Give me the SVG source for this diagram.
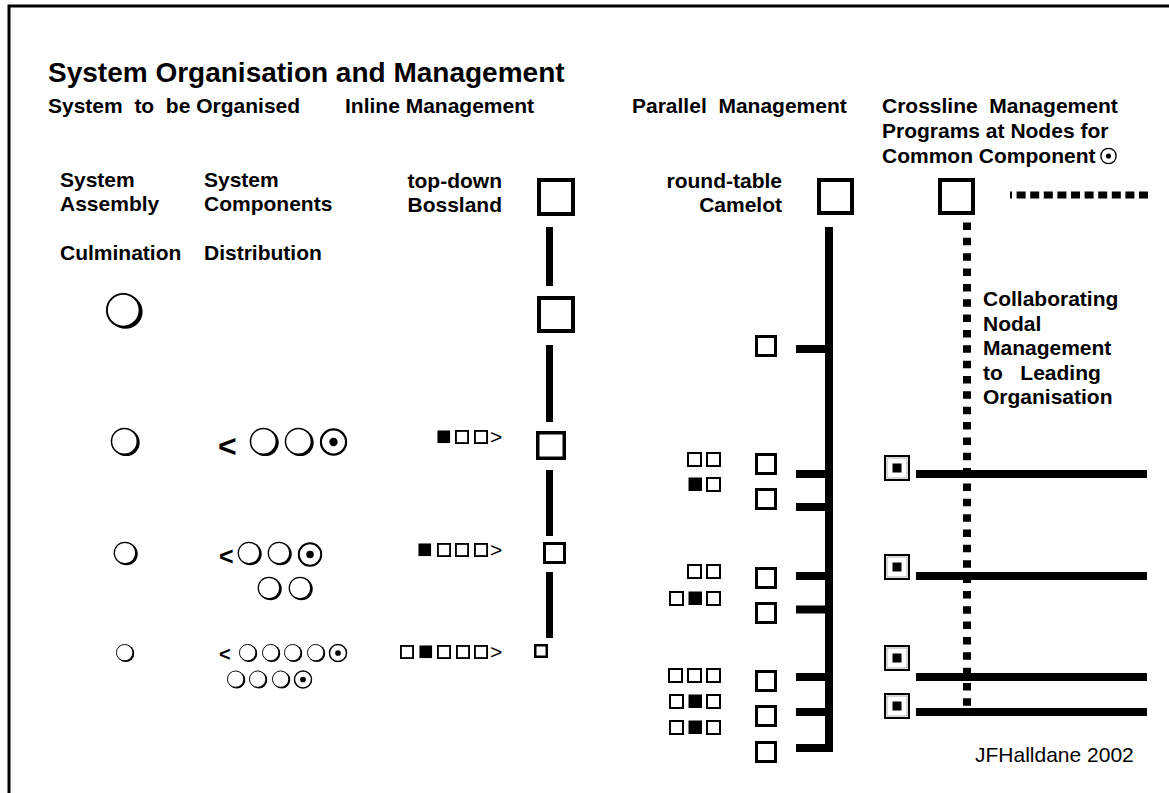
<svg xmlns="http://www.w3.org/2000/svg" xmlns:xlink="http://www.w3.org/1999/xlink" width="1169" height="793" viewBox="0 0 1169 793">
<style>
.tt{font-family:"Liberation Sans",Arial,sans-serif;font-weight:bold;font-size:28px;fill:#000}
.b{font-family:"Liberation Sans",Arial,sans-serif;font-weight:bold;font-size:21px;fill:#000;white-space:pre}
.r{font-family:"Liberation Sans",Arial,sans-serif;font-size:21px;fill:#000;white-space:pre}
.e{text-anchor:end}
.box{fill:#fff;stroke:#000}
.bar{stroke:#000;stroke-width:7;fill:none}
.br{stroke:#000;stroke-width:8;fill:none}
</style>
<defs>
<symbol id="q" viewBox="0 0 100 100"><circle cx="54" cy="52" r="45" fill="#000"/><circle cx="48" cy="48" r="43" fill="#fff" stroke="#000" stroke-width="5"/></symbol>
<symbol id="c" viewBox="0 0 100 100"><circle cx="50" cy="50" r="45" fill="#fff" stroke="#000" stroke-width="8"/><circle cx="50" cy="50" r="15" fill="#000"/></symbol>
<symbol id="o" viewBox="0 0 15 15"><rect x="1" y="1" width="13" height="13" fill="#fff" stroke="#000" stroke-width="2"/></symbol>
<symbol id="f" viewBox="0 0 15 15"><rect x="0.5" y="0.5" width="13.5" height="13.5" fill="#000"/></symbol>
<symbol id="n" viewBox="0 0 26 26"><rect x="1" y="1" width="24" height="24" fill="#fff" stroke="#000" stroke-width="2"/><rect x="3" y="3" width="20" height="20" fill="none" stroke="#999" stroke-width="0.8"/><rect x="8.5" y="8.5" width="9" height="9" fill="#000"/></symbol>
</defs>
<rect id="frame" x="9" y="6" width="1200" height="900" fill="none" stroke="#000" stroke-width="3"/>
<g id="title"><text class="tt" x="48" y="82">System Organisation and Management</text></g>
<g id="headers">
<text class="b" x="48" y="113">System  to  be Organised</text>
<text class="b" x="345" y="113">Inline Management</text>
<text class="b" x="632" y="113">Parallel  Management</text>
<text class="b" x="882" y="113">Crossline  Management</text>
<text class="b" x="882" y="138">Programs at Nodes for</text>
<text class="b" x="882" y="163">Common Component</text>
<use href="#c" x="1100" y="147.5" width="17" height="17"/>
</g>
<g id="labels">
<text class="b" x="60" y="187">System</text><text class="b" x="60" y="211">Assembly</text>
<text class="b" x="204" y="187">System</text><text class="b" x="204" y="211">Components</text>
<text class="b" x="60" y="260">Culmination</text><text class="b" x="204" y="260">Distribution</text>
<text class="b e" x="502" y="188">top-down</text><text class="b e" x="502" y="212">Bossland</text>
<text class="b e" x="782" y="188">round-table</text><text class="b e" x="782" y="212">Camelot</text>
<text class="b" x="983" y="306">Collaborating</text>
<text class="b" x="983" y="331">Nodal</text>
<text class="b" x="983" y="355">Management</text>
<text class="b" x="983" y="380">to   Leading</text>
<text class="b" x="983" y="404">Organisation</text>
<text class="r" x="975" y="762">JFHalldane 2002</text>
</g>
<g id="connectors">
<line class="bar" x1="549.5" y1="227" x2="549.5" y2="286"/>
<line class="bar" x1="549.5" y1="345" x2="549.5" y2="422"/>
<line class="bar" x1="549.5" y1="470" x2="549.5" y2="536"/>
<line class="bar" x1="549.5" y1="572" x2="549.5" y2="638"/>
<line class="br" x1="829" y1="227" x2="829" y2="752"/>
<line class="br" x1="796" y1="349" x2="829" y2="349"/>
<line class="br" x1="796" y1="474" x2="829" y2="474"/>
<line class="br" x1="796" y1="507" x2="829" y2="507"/>
<line class="br" x1="796" y1="576" x2="829" y2="576"/>
<line class="br" x1="796" y1="609.5" x2="829" y2="609.5"/>
<line class="br" x1="796" y1="677" x2="829" y2="677"/>
<line class="br" x1="796" y1="712" x2="829" y2="712"/>
<line class="br" x1="796" y1="748" x2="833" y2="748"/>
<line class="br" x1="916" y1="474" x2="1147" y2="474"/>
<line class="br" x1="916" y1="576" x2="1147" y2="576"/>
<line class="br" x1="916" y1="677" x2="1147" y2="677"/>
<line class="br" x1="916" y1="712" x2="1147" y2="712"/>
<line x1="967" y1="222.5" x2="967" y2="706" stroke="#000" stroke-width="8" stroke-dasharray="7.5 7.85"/>
<line x1="1010" y1="195" x2="1148" y2="195" stroke="#000" stroke-width="7" stroke-dasharray="9 4.6" stroke-dashoffset="7"/>
</g>
<g id="culmination">
<g id="culm-1"><use href="#q" x="105" y="292" width="38" height="38"/></g>
<g id="culm-2"><use href="#q" x="110" y="427" width="30" height="30"/></g>
<g id="culm-3"><use href="#q" x="113" y="541" width="25" height="25"/></g>
<g id="culm-4"><use href="#q" x="115.5" y="643.5" width="19" height="19"/></g>
</g>
<g id="distribution">
<g id="dist-2"><text class="b" x="218" y="457" style="font-size:32px">&lt;</text>
<use href="#q" x="249" y="427" width="30" height="30"/><use href="#q" x="284" y="427" width="30" height="30"/><use href="#c" x="319.5" y="428" width="28" height="28"/></g>
<g id="dist-3"><text class="b" x="219" y="565" style="font-size:25px">&lt;</text>
<use href="#q" x="237" y="541" width="25" height="25"/><use href="#q" x="267" y="541" width="25" height="25"/><use href="#c" x="297.5" y="542" width="25" height="25"/>
<use href="#q" x="257" y="576" width="25" height="25"/><use href="#q" x="288" y="576" width="25" height="25"/></g>
<g id="dist-4"><text class="b" x="219" y="661" style="font-size:20px">&lt;</text>
<use href="#q" x="238.5" y="643.5" width="19" height="19"/><use href="#q" x="261.5" y="643.5" width="19" height="19"/><use href="#q" x="283.5" y="643.5" width="19" height="19"/><use href="#q" x="306.5" y="643.5" width="19" height="19"/><use href="#c" x="328.5" y="643.5" width="19" height="19"/>
<use href="#q" x="226.5" y="670" width="19" height="19"/><use href="#q" x="248.5" y="670" width="19" height="19"/><use href="#q" x="271.5" y="670" width="19" height="19"/><use href="#c" x="293.5" y="670" width="19" height="19"/></g>
</g>
<g id="inline">
<g id="inline-1"><rect class="box" x="539" y="180" width="34" height="34" stroke-width="4"/></g>
<g id="inline-2"><rect class="box" x="539" y="298" width="34" height="33" stroke-width="4"/></g>
<g id="inline-3"><rect class="box" x="537.75" y="432.75" width="26.5" height="25.5" stroke-width="3.5"/>
<use href="#f" x="437" y="430" width="14" height="14"/><use href="#o" x="455" y="430" width="14" height="14"/><use href="#o" x="474" y="430" width="14" height="14"/><text class="r" x="490" y="444">&gt;</text></g>
<g id="inline-4"><rect class="box" x="544.5" y="543.5" width="20" height="19" stroke-width="3"/>
<use href="#f" x="418" y="543" width="14" height="14"/><use href="#o" x="437" y="543" width="14" height="14"/><use href="#o" x="455" y="543" width="14" height="14"/><use href="#o" x="474" y="543" width="14" height="14"/><text class="r" x="490" y="557">&gt;</text></g>
<g id="inline-5"><rect class="box" x="535.25" y="645.25" width="11.5" height="11.5" stroke-width="2.5"/>
<use href="#o" x="400" y="645" width="14" height="14"/><use href="#f" x="419" y="645" width="14" height="14"/><use href="#o" x="437" y="645" width="14" height="14"/><use href="#o" x="456" y="645" width="14" height="14"/><use href="#o" x="474" y="645" width="14" height="14"/><text class="r" x="490" y="659">&gt;</text></g>
</g>
<g id="parallel">
<g id="parallel-top"><rect class="box" x="819" y="180" width="33" height="33" stroke-width="4"/></g>
<g id="par-1"><rect class="box" x="756.5" y="336.5" width="19" height="19" stroke-width="3"/></g>
<g id="par-2"><rect class="box" x="756.5" y="454.5" width="19" height="19" stroke-width="3"/>
<use href="#o" x="687" y="452" width="15" height="15"/><use href="#o" x="706" y="452" width="15" height="15"/>
<use href="#f" x="688" y="477" width="15" height="15"/><use href="#o" x="706" y="477" width="15" height="15"/></g>
<g id="par-3"><rect class="box" x="756.5" y="489.5" width="19" height="19" stroke-width="3"/></g>
<g id="par-4"><rect class="box" x="756.5" y="568.5" width="19" height="19" stroke-width="3"/>
<use href="#o" x="687" y="564" width="15" height="15"/><use href="#o" x="706" y="564" width="15" height="15"/>
<use href="#o" x="669" y="591" width="15" height="15"/><use href="#f" x="688" y="591" width="15" height="15"/><use href="#o" x="706" y="591" width="15" height="15"/></g>
<g id="par-5"><rect class="box" x="756.5" y="603.5" width="19" height="19" stroke-width="3"/></g>
<g id="par-6"><rect class="box" x="756.5" y="671.5" width="19" height="19" stroke-width="3"/>
<use href="#o" x="668" y="668" width="15" height="15"/><use href="#o" x="687" y="668" width="15" height="15"/><use href="#o" x="706" y="668" width="15" height="15"/>
<use href="#o" x="669" y="694" width="15" height="15"/><use href="#f" x="688" y="694" width="15" height="15"/><use href="#o" x="706" y="694" width="15" height="15"/>
<use href="#o" x="669" y="720" width="15" height="15"/><use href="#f" x="688" y="720" width="15" height="15"/><use href="#o" x="706" y="720" width="15" height="15"/></g>
<g id="par-7"><rect class="box" x="756.5" y="706.5" width="19" height="19" stroke-width="3"/></g>
<g id="par-8"><rect class="box" x="756.5" y="742.5" width="19" height="19" stroke-width="3"/></g>
</g>
<g id="crossline">
<g id="cross-top"><rect class="box" x="940" y="180" width="33" height="33" stroke-width="4"/></g>
<g id="cross-1"><use href="#n" x="884" y="455" width="26" height="26"/></g>
<g id="cross-2"><use href="#n" x="884" y="554" width="26" height="26"/></g>
<g id="cross-3"><use href="#n" x="884" y="645" width="26" height="26"/></g>
<g id="cross-4"><use href="#n" x="884" y="693" width="26" height="26"/></g>
</g>
</svg>
